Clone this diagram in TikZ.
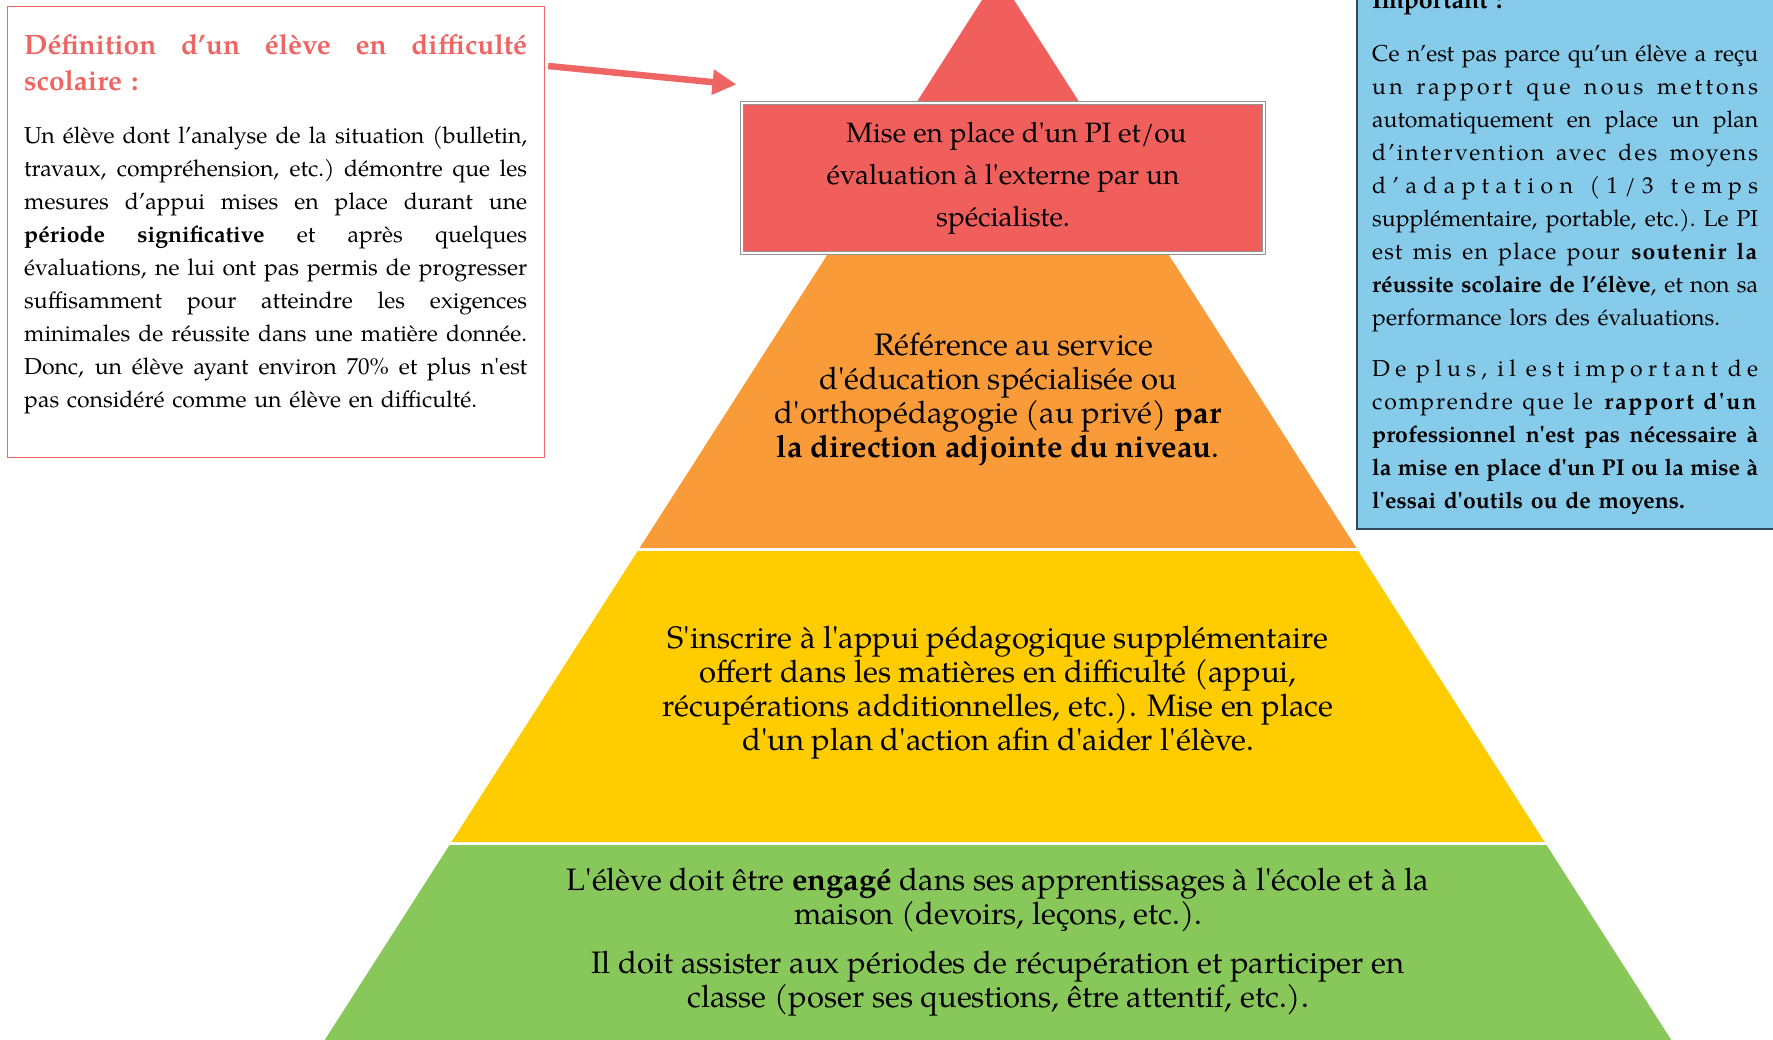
\documentclass[tikz,border=0pt]{standalone}
\usepackage{fontspec}
\setmainfont{texgyrepagella}[Extension=.otf, UprightFont=*-regular, BoldFont=*-bold, ItalicFont=*-italic, BoldItalicFont=*-bolditalic, Ligatures=TeXOff]
\usepackage{xcolor}
\usepackage{tikz}
\usetikzlibrary{shapes, arrows.meta, positioning}

\definecolor{pyrred}{HTML}{F05F5B}
\definecolor{pyrorange}{HTML}{FA9B3A}
\definecolor{pyryellow}{HTML}{FFCC00}
\definecolor{pyrgreen}{HTML}{88C75A}
\definecolor{notebg}{HTML}{87CBEA}
\definecolor{noteline}{HTML}{2E4A62}
\definecolor{defred}{HTML}{EE6563}

\newlength{\roww}
\newcommand{\fullline}[1]{\leavevmode\hbox to \roww{\spaceskip=.25em plus 1fil minus .15em\xspaceskip=\spaceskip #1}\\}
\newcommand{\spacedline}[2]{\leavevmode\hbox to \roww{\addfontfeatures{LetterSpace=#1}\spaceskip=.3em plus 1fil minus .1em\xspaceskip=\spaceskip #2}\\}

\begin{document}
\begin{tikzpicture}[x=1pt, y=-1pt,
    defbox/.style={draw=defred, line width=1.2pt, minimum width=537pt, minimum height=451pt, anchor=north west, inner sep=0pt},
    notebox/.style={draw=noteline, fill=notebg, line width=1.6pt, minimum width=440pt, minimum height=568pt, anchor=north west, inner sep=0pt},
    boxtext/.style={anchor=north west, inner sep=0pt, align=left, text width=#1, execute at begin node={\setlength{\roww}{#1}}},
    boxtext/.default=503pt,
    pibox/.style={fill=pyrred, draw=gray!85, double=white, double distance=1.2pt, line width=1pt, minimum width=522pt, minimum height=150pt, align=center, font=\fontsize{28}{42}\selectfont},
    pilabel/.style={align=center, inner sep=0pt, font=\fontsize{31}{34}\selectfont},
    pointer/.style={draw=defred, line width=6.5pt, -{Triangle[length=24pt, width=24pt]}}
]
\useasboundingbox (0,0) rectangle (1773,1040);
\clip (0,0) rectangle (1773,1040);

\fill[pyrred] (998,-25) -- (1161,230) -- (835,230) -- cycle;
\foreach \ytop/\ybot/\col in {232/548/pyrorange, 551/842/pyryellow, 845/1060/pyrgreen}
    \fill[\col] ({998-0.64*(\ytop+12)},\ytop) -- ({998+0.64*(\ytop+12)},\ytop) -- ({998+0.64*(\ybot+12)},\ybot) -- ({998-0.64*(\ybot+12)},\ybot) -- cycle;

\node[pibox] (pi) at (1003,178) {\hspace*{27pt}Mise en place d'un PI et/ou\\ évaluation à l'externe par un\\ spécialiste.};
\node[pilabel] (referral) at (998,399) {\hspace*{32pt}Référence au service\\ d'éducation spécialisée ou\\ d'orthopédagogie (au privé) \textbf{par}\\ \textbf{la direction adjointe du niveau}.};
\node[pilabel] (support) at (998,693) {S'inscrire à l'appui pédagogique supplémentaire\\ offert dans les matières en difficulté (appui,\\ récupérations additionnelles, etc.). Mise en place\\ d'un plan d'action afin d'aider l'élève.};
\node[pilabel] (engaged) at (998,942) {L'élève doit être \textbf{engagé} dans ses apprentissages à l'école et à la\\ maison (devoirs, leçons, etc.).\\[15pt] Il doit assister aux périodes de récupération et participer en\\ classe (poser ses questions, être attentif, etc.).};

\node[defbox] (def) at (7,6) {};
\node[boxtext, text=defred, font=\fontsize{28}{36}\selectfont\bfseries] (deftitle) at (24,34) {\fullline{Définition d’un élève en difficulté}scolaire :};
\node[boxtext, font=\fontsize{23}{33}\selectfont, below=35pt of deftitle.south west, anchor=north west] (defbody) {%
\fullline{Un élève dont l’analyse de la situation (bulletin,}
\fullline{travaux, compréhension, etc.) démontre que les}
\fullline{mesures d’appui mises en place durant une}
\fullline{\textbf{période significative} et après quelques}
\fullline{évaluations, ne lui ont pas permis de progresser}
\fullline{suffisamment pour atteindre les exigences}
\fullline{minimales de réussite dans une matière donnée.}
\fullline{Donc, un élève ayant environ 70\% et plus n'est}
pas considéré comme un élève en difficulté.};
\draw[pointer] ([shift={(3,60)}]def.north east) -- ([shift={(-5,-18)}]pi.north west);

\node[notebox] (note) at (1356,-40) {};
\node[boxtext=386pt, font=\fontsize{25}{28}\selectfont\bfseries] (notetitle) at (1372,-9) {Important :};
\node[boxtext=386pt, font=\fontsize{23}{33}\selectfont] (notebody) at (1372,45) {%
\fullline{Ce n’est pas parce qu’un élève a reçu}
\spacedline{14}{un rapport que nous mettons}
\fullline{automatiquement en place un plan}
\spacedline{9}{d’intervention avec des moyens}
\spacedline{28}{d’adaptation (1/3 temps}
\fullline{supplémentaire, portable, etc.). Le PI}
\spacedline{5}{est mis en place pour \textbf{soutenir la}}
\fullline{\textbf{réussite scolaire de l’élève}, et non sa}
performance lors des évaluations.\\[18pt]
\spacedline{23}{De plus, il est important de}
\spacedline{8}{comprendre que le \textbf{rapport d'un}}
\fullline{\textbf{professionnel n'est pas nécessaire à}}
\fullline{\textbf{la mise en place d'un PI ou la mise à}}
\textbf{l'essai d'outils ou de moyens.}};
\end{tikzpicture}
\end{document}
